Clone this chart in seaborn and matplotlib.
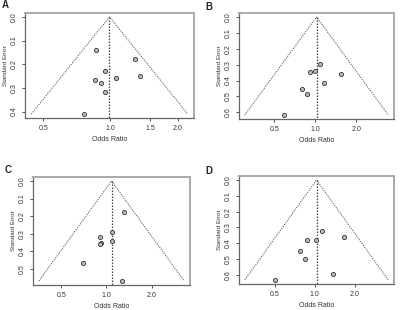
import seaborn as sns
import matplotlib.pyplot as plt
import pandas as pd
import numpy as np

# Funnel plot data (odds ratio, standard error) per panel
a_or = [0.86, 1.29, 0.95, 1.06, 1.35, 0.85, 0.91, 0.95, 0.76]
a_se = [0.139, 0.179, 0.228, 0.258, 0.248, 0.266, 0.279, 0.319, 0.411]
b_or = [1.08, 0.91, 1.00, 1.53, 1.16, 0.80, 0.87, 0.59]
b_se = [0.299, 0.347, 0.339, 0.358, 0.418, 0.450, 0.487, 0.617]
c_or = [1.30, 1.08, 0.90, 0.92, 0.91, 1.08, 0.70, 1.26]
c_se = [0.179, 0.289, 0.317, 0.351, 0.357, 0.340, 0.468, 0.570]
d_or = [1.13, 1.65, 0.88, 1.02, 0.78, 0.84, 1.37, 0.50]
d_se = [0.321, 0.362, 0.381, 0.381, 0.452, 0.502, 0.592, 0.633]

centers = [0.99, 1.02, 1.08, 1.03]
letters = ['A', 'B', 'C', 'D']
xtick_vals = [[0.5, 1.0, 1.5, 2.0], [0.5, 1.0, 2.0], [0.5, 1.0, 2.0], [0.5, 1.0, 2.0]]
ytick_vals = [[0.0, 0.1, 0.2, 0.3, 0.4],
              [0.0, 0.1, 0.2, 0.3, 0.4, 0.5, 0.6],
              [0.0, 0.1, 0.2, 0.3, 0.4, 0.5],
              [0.0, 0.1, 0.2, 0.3, 0.4, 0.5, 0.6]]

panels = [(a_or, a_se), (b_or, b_se), (c_or, c_se), (d_or, d_se)]

sns.set_style('white')
plt.rcParams['font.family'] = ['Liberation Sans', 'DejaVu Sans']

fig = plt.figure(figsize=(4, 3.1), dpi=100)
# axes boxes in pixels: left, top, right, bottom
boxes = [(25, 13, 194, 118), (239, 13, 394, 119), (33, 177, 190, 285), (239, 176, 394, 284)]
letter_pos = [(2, 5), (205, 7), (5, 170), (205, 171)]

for i, (ors, ses) in enumerate(panels):
    l, t, r, b = boxes[i]
    ax = fig.add_axes([l / 400, 1 - b / 310, (r - l) / 400, (b - t) / 310])
    df = pd.DataFrame({'OR': ors, 'SE': ses})
    maxse = max(ses)
    c = np.log(centers[i])

    # funnel and centre line
    ax.plot([np.exp(c - 1.96 * maxse), centers[i], np.exp(c + 1.96 * maxse)],
            [maxse, 0, maxse], ls=(0, (1.2, 1.2)), color='#555555', lw=0.7)
    ax.plot([centers[i], centers[i]], [0, maxse * 1.04], ls=(0, (1.2, 1.2)),
            color='#444444', lw=0.9)

    sns.scatterplot(data=df, x='OR', y='SE', ax=ax, s=9, marker='o',
                    facecolor='#bbbbbb', edgecolor='#333333', linewidth=0.6, zorder=3)

    ax.set_xscale('log')
    half = 1.96 * maxse
    pad = 0.04 * 2 * half
    ax.set_xlim(np.exp(c - half - pad), np.exp(c + half + pad))
    ax.set_ylim(maxse * 1.04, -maxse * 0.04)
    ax.set_xticks(xtick_vals[i])
    ax.set_xticklabels([f'{v:.1f}' for v in xtick_vals[i]])
    ax.xaxis.set_minor_locator(plt.NullLocator())
    ax.set_yticks(ytick_vals[i])
    ax.set_yticklabels([f'{v:.1f}' for v in ytick_vals[i]], rotation=90, va='center')
    ax.tick_params(axis='both', labelsize=5, length=2.5, width=0.6, pad=2.5,
                   direction='out', colors='#333333', left=True, bottom=True)
    ax.set_xlabel('Odds Ratio', fontsize=5, labelpad=3, color='#333333')
    ax.set_ylabel('Standard Error', fontsize=4.5, labelpad=2, color='#333333')

    for side in ['top', 'right']:
        ax.spines[side].set_color('#aaaaaa')
        ax.spines[side].set_linewidth(1.4)
    for side in ['left', 'bottom']:
        ax.spines[side].set_color('#666666')
        ax.spines[side].set_linewidth(0.9)

    fig.text(letter_pos[i][0] / 400, 1 - letter_pos[i][1] / 310,
             letters[i], fontsize=7, fontweight='bold', ha='left', va='center')

plt.savefig('out.png', dpi=100)
